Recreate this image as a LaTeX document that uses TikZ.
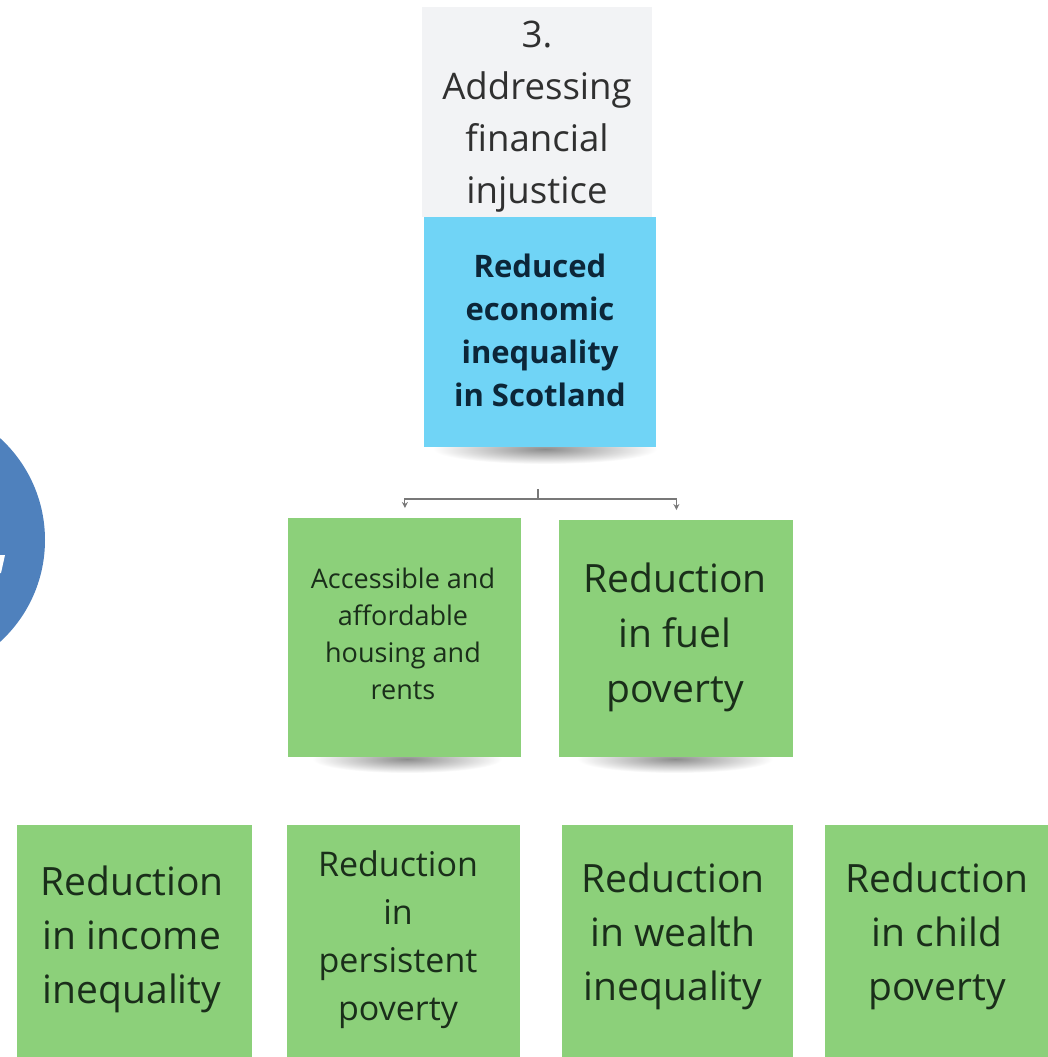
\documentclass[tikz,border=0pt]{standalone}
\usepackage{fontspec}
\setmainfont{Open Sans}
\usetikzlibrary{arrows.meta,calc}
\definecolor{graynote}{RGB}{242,243,245}
\definecolor{bluenote}{RGB}{112,212,246}
\definecolor{greennote}{RGB}{140,208,122}
\definecolor{circblue}{RGB}{79,129,189}
\definecolor{linegray}{RGB}{120,120,120}
\definecolor{greentext}{RGB}{26,46,26}
\definecolor{bluetext}{RGB}{12,38,56}
\definecolor{graytext}{RGB}{48,48,48}
\begin{document}
\begin{tikzpicture}[x=0.5pt,y=-0.5pt,
  notebox/.style={rectangle, inner sep=0pt, anchor=north west, draw=none},
  notetext/.style={inner sep=0pt, align=center},
  conn/.style={draw=linegray, line width=0.55pt, -{Stealth[length=3pt,width=3pt]}, shorten >=5pt},
  noteshadow/.style={inner color=black!45, outer color=white}
]
\clip (0,0) rectangle (1048,1057);
\fill[white] (0,0) rectangle (1048,1057);

% left circle
\fill[circblue] (-93,540) circle (138);
\fill[white] (0,555) -- (5,555) -- (1,573) -- (0,573) -- cycle;

% shadows
\shade[noteshadow] (545,449) ellipse (112 and 15);
\shade[noteshadow] (407,759) ellipse (95 and 14);
\shade[noteshadow] (675,759) ellipse (98 and 14);

% boxes
\node[notebox, fill=graynote, minimum width=115pt, minimum height=105pt] (gray) at (422,7) {};
\node[notebox, fill=bluenote, minimum width=116pt, minimum height=115pt] (blue) at (424,217) {};
\node[notebox, fill=greennote, minimum width=116.5pt, minimum height=119.5pt] (A) at (288,518) {};
\node[notebox, fill=greennote, minimum width=117pt, minimum height=118.5pt] (B) at (559,520) {};
\node[notebox, fill=greennote, minimum width=117.5pt, minimum height=122pt] (r1) at (17,825) {};
\node[notebox, fill=greennote, minimum width=116.5pt, minimum height=122pt] (r2) at (287,825) {};
\node[notebox, fill=greennote, minimum width=115.5pt, minimum height=122pt] (r3) at (562,825) {};
\node[notebox, fill=greennote, minimum width=120pt, minimum height=122pt] (r4) at (825,825) {};

% texts
\node[notetext, text=graytext, font=\fontsize{18.3}{26}\selectfont] (grayt) at (537,117) {3.\\Addressing\\financial\\injustice};
\node[notetext, text=bluetext, font=\fontsize{15.5}{21.5}\selectfont\bfseries] (bluet) at (540,330) {Reduced\\economic\\inequality\\in Scotland};
\node[notetext, text=greentext, font=\fontsize{13.5}{18.5}\selectfont] (At) at (403,634) {Accessible and\\affordable\\housing and\\rents};
\node[notetext, text=greentext, font=\fontsize{19.5}{27.5}\selectfont] (Bt) at (675,637) {Reduction\\in fuel\\poverty};
\node[notetext, text=greentext, font=\fontsize{19.5}{27}\selectfont] (r1t) at (132,939) {Reduction\\in income\\inequality};
\node[notetext, text=greentext, font=\fontsize{17}{24}\selectfont] (r2t) at (398,940) {Reduction\\in\\persistent\\poverty};
\node[notetext, text=greentext, font=\fontsize{19.5}{27}\selectfont] (r3t) at (673,936) {Reduction\\in wealth\\inequality};
\node[notetext, text=greentext, font=\fontsize{19.5}{27}\selectfont] (r4t) at (937,936) {Reduction\\in child\\poverty};

% connector
\coordinate (hub) at (538,489);
\coordinate (bar) at (538,499);
\draw[draw=linegray, line width=0.55pt] (hub) -- (bar);
\draw[conn] (bar) -| (A.north);
\draw[conn] (bar) -| (B.north);
\end{tikzpicture}
\end{document}
